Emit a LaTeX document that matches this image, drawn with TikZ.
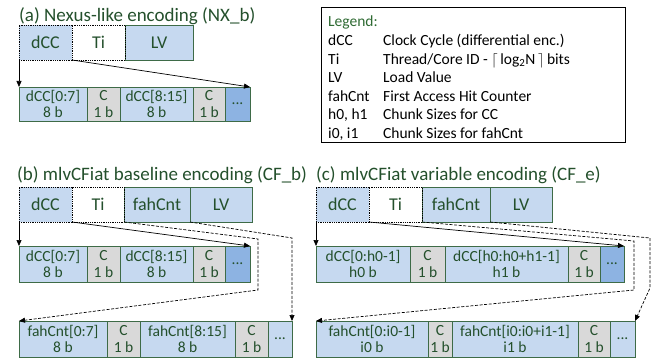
\documentclass[tikz,border=0pt]{standalone}
\usepackage{fontspec}
\setmainfont{Carlito}
\usetikzlibrary{arrows.meta}

\definecolor{lblue}{HTML}{C6D9F0}
\definecolor{mblue}{HTML}{8DB3E2}
\definecolor{lgray}{HTML}{D9D9D9}
\definecolor{bordc}{HTML}{3E6B47}
\definecolor{txtc}{HTML}{24502C}
\definecolor{legc}{HTML}{2E6A32}

% one field of an encoding: name, style, x1, x2, y1, y2, text
\newcommand\field[7]{%
  \pgfmathsetmacro\fw{#4-#3}\pgfmathsetmacro\fh{#6-#5}%
  \node[fld,#2,minimum width=\fw pt,minimum height=\fh pt] (#1) at (#3,#5) {#7};}

\tikzset{
  fld/.style={draw=bordc, line width=0.8pt, inner sep=0pt, outer sep=0pt,
    anchor=north west, text=txtc, align=center},
  big/.style={font=\fontsize{18}{20}\selectfont},
  small/.style={font=\fontsize{15.5}{16.5}\selectfont},
  lb/.style={fill=lblue}, gb/.style={fill=lgray}, mb/.style={fill=mblue},
  wb/.style={fill=white},
  sel/.style={draw=black, densely dotted, line width=0.6pt},
  conn/.style={-{Triangle[length=6pt,width=5pt]}, line width=0.7pt, draw=black},
  dconn/.style={conn, dash pattern=on 3pt off 1.6pt},
  title/.style={anchor=base west, text=txtc, inner sep=0pt, font=\fontsize{19}{21}\selectfont},
  legtxt/.style={anchor=base west, inner sep=0pt, font=\fontsize{15.5}{17}\selectfont},
}

\begin{document}
\begin{tikzpicture}[x=1pt,y=-1pt]
\useasboundingbox (0,0) rectangle (658,358);

% ---------------- (a) Nexus-like encoding ----------------
\node[title] (ta) at (19,22) {(a) Nexus-like encoding (NX\_b)};
\field{a-lv}{lb,big}{125}{193}{25}{60}{LV}
\field{a-dcc}{lb,big,sel}{19}{72}{25}{60}{dCC}
\field{a-ti}{wb,big,sel}{72}{125}{25}{60}{Ti}

\field{a-d1}{lb,small}{19}{87}{87}{121}{dCC[0:7]\\8 b}
\field{a-c1}{gb,small}{87}{120}{87}{121}{C\\1 b}
\field{a-d2}{lb,small}{120}{193}{87}{121}{dCC[8:15]\\8 b}
\field{a-c2}{gb,small}{193}{225}{87}{121}{C\\1 b}
\field{a-dots}{mb,small}{225}{250}{87}{121}{...}

\draw[conn] (a-dcc.south west) -- (a-d1.north west);
\draw[conn] (a-dcc.south east) -- (a-dots.north east);

% ---------------- legend ----------------
\node[draw=black, line width=0.6pt, minimum width=304pt, minimum height=135pt,
      anchor=north west, inner sep=0pt] (legend) at (321,7) {};
\node[legtxt, text=legc] (lg0) at (328,27) {Legend:};
\node[legtxt] (lk1) at (328,46) {dCC};
\node[legtxt] (lv1) at (383,46) {Clock Cycle (differential enc.)};
\node[legtxt] (lk2) at (328,64.5) {Ti};
\node[legtxt] (lv2) at (383,64.5) {Thread/Core ID - $\big\lceil$\,log\textsubscript{2}N\,$\big\rceil$\,bits};
\node[legtxt] (lk3) at (328,83) {LV};
\node[legtxt] (lv3) at (383,83) {Load Value};
\node[legtxt] (lk4) at (328,101.5) {fahCnt};
\node[legtxt] (lv4) at (383,101.5) {First Access Hit Counter};
\node[legtxt] (lk5) at (328,120) {h0, h1};
\node[legtxt] (lv5) at (383,120) {Chunk Sizes for CC};
\node[legtxt] (lk6) at (328,138.5) {i0, i1};
\node[legtxt] (lv6) at (383,138.5) {Chunk Sizes for fahCnt};

% ---------------- (b) baseline encoding ----------------
\node[title] (tb) at (17,181) {(b) mlvCFiat baseline encoding (CF\_b)};
\field{b-fah}{lb,big}{124}{190}{187}{222}{fahCnt}
\field{b-lv}{lb,big}{190}{252}{187}{222}{LV}
\field{b-dcc}{lb,big,sel}{19}{72}{187}{222}{dCC}
\field{b-ti}{wb,big,sel}{72}{124}{187}{222}{Ti}

\field{b-d1}{lb,small}{19}{87}{246}{282}{dCC[0:7]\\8 b}
\field{b-c1}{gb,small}{87}{120}{246}{282}{C\\1 b}
\field{b-d2}{lb,small}{120}{193}{246}{282}{dCC[8:15]\\8 b}
\field{b-c2}{gb,small}{193}{225}{246}{282}{C\\1 b}
\field{b-dots}{mb,small}{225}{250}{246}{282}{...}

\field{b-f1}{lb,small}{19}{107}{321}{357}{fahCnt[0:7]\\8 b}
\field{b-fc1}{gb,small}{107}{140}{321}{357}{C\\1 b}
\field{b-f2}{lb,small}{140}{235}{321}{357}{fahCnt[8:15]\\8 b}
\field{b-fc2}{gb,small}{235}{268}{321}{357}{C\\1 b}
\field{b-fdots}{lb,small}{268}{292}{321}{357}{...}

\coordinate (b-k1) at (258,239);
\coordinate (b-k2) at (258,290);
\coordinate (b-k3) at (292,238);
\draw[conn] (b-dcc.south west) -- (b-d1.north west);
\draw[conn] (b-dcc.south east) -- (b-dots.north east);
\draw[dconn] (b-fah.south west) -- (b-k1) -- (b-k2) -- (b-f1.north west);
\draw[dconn] (b-fah.south east) -- (b-k3) -- (b-fdots.north east);

% ---------------- (c) variable encoding ----------------
\node[title] (tc) at (316,181) {(c) mlvCFiat variable encoding (CF\_e)};
\field{c-fah}{lb,big}{422}{490}{187}{222}{fahCnt}
\field{c-lv}{lb,big}{490}{552}{187}{222}{LV}
\field{c-dcc}{lb,big,sel}{316}{369}{187}{222}{dCC}
\field{c-ti}{wb,big,sel}{369}{422}{187}{222}{Ti}

\field{c-d1}{lb,small}{316}{410}{246}{282}{dCC[0:h0-1]\\h0 b}
\field{c-c1}{gb,small}{410}{445}{246}{282}{C\\1 b}
\field{c-d2}{lb,small}{445}{568}{246}{282}{dCC[h0:h0+h1-1]\\h1 b}
\field{c-c2}{gb,small}{568}{600}{246}{282}{C\\1 b}
\field{c-dots}{mb,small}{600}{624}{246}{282}{...}

\field{c-f1}{lb,small}{316}{428}{321}{357}{fahCnt[0:i0-1]\\i0 b}
\field{c-fc1}{gb,small}{428}{452}{321}{357}{C\\1 b}
\field{c-f2}{lb,small}{452}{578}{321}{357}{fahCnt[i0:i0+i1-1]\\i1 b}
\field{c-fc2}{gb,small}{578}{610}{321}{357}{C\\1 b}
\field{c-fdots}{lb,small}{610}{635}{321}{357}{...}

\coordinate (c-k1) at (634,241);
\coordinate (c-k2) at (634,290);
\coordinate (c-k3) at (650,238);
\coordinate (c-k4) at (650,288);
\draw[conn] (c-dcc.south west) -- (c-d1.north west);
\draw[conn] (c-dcc.south east) -- (c-dots.north east);
\draw[dconn] (c-fah.south west) -- (c-k1) -- (c-k2) -- (c-f1.north west);
\draw[dconn] (c-fah.south east) -- (c-k3) -- (c-k4) -- (c-fdots.north east);
\end{tikzpicture}
\end{document}
